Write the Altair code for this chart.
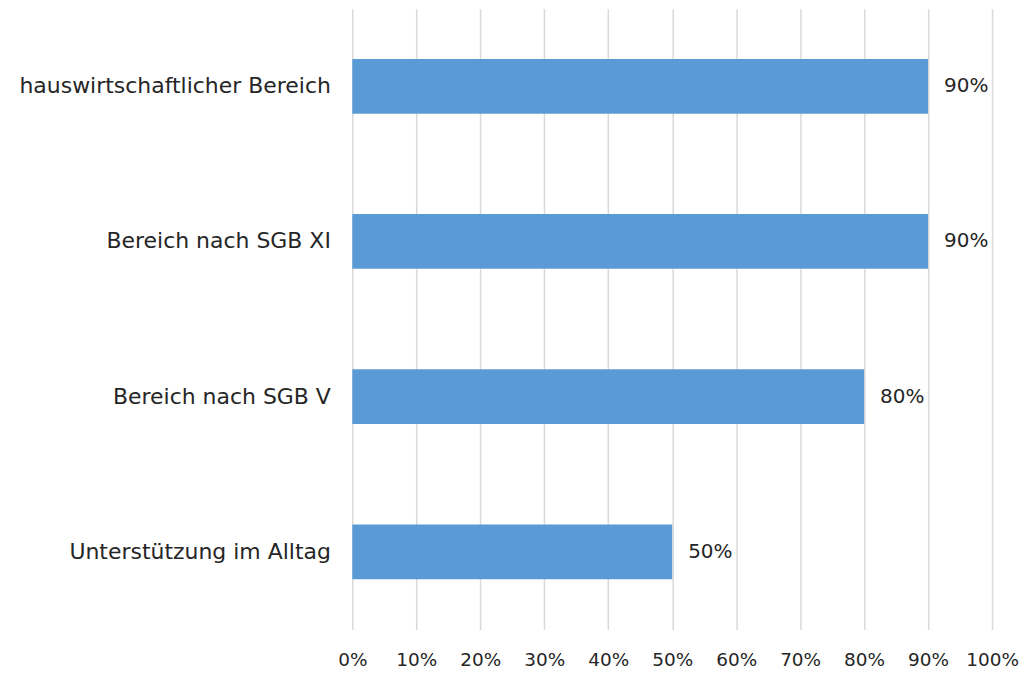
import altair as alt
import pandas as pd

categories = ["hauswirtschaftlicher Bereich", "Bereich nach SGB XI", "Bereich nach SGB V", "Unterstützung im Alltag"]
values = [0.9, 0.9, 0.8, 0.5]
ticks = [i / 10 for i in range(11)]

df = pd.DataFrame({"cat": categories, "val": values})
FONT = "DejaVu Sans"

y = alt.Y("cat:N", sort=categories, title=None,
          scale=alt.Scale(paddingInner=0.647, paddingOuter=0.324),
          axis=alt.Axis(domain=False, ticks=False, labelFontSize=22, labelColor="#262626",
                        labelFont=FONT, labelPadding=22, minExtent=345, maxExtent=345, labelLimit=400))
x = alt.X("val:Q", title=None, scale=alt.Scale(domain=[0, 1], nice=False),
          axis=alt.Axis(values=ticks, format=".0%", domain=False, ticks=False, grid=True,
                        gridColor="#d9d9d9", gridWidth=1.5, labelFontSize=18.5, labelColor="#262626",
                        labelFont=FONT, labelPadding=21, labelOverlap=False, labelFlush=False))

bars = alt.Chart(df).mark_bar(color="#5B9BD5").encode(x=x, y=y)
text = alt.Chart(df).mark_text(align="left", baseline="middle", dx=16, fontSize=20,
                               font=FONT, color="#262626").encode(
    x="val:Q", y=alt.Y("cat:N", sort=categories), text=alt.Text("val:Q", format=".0%"))

chart = (bars + text).properties(width=641, height=622, padding=0).configure_view(stroke=None)
chart.save("out.html", embed_options={"renderer": "svg", "actions": False})
